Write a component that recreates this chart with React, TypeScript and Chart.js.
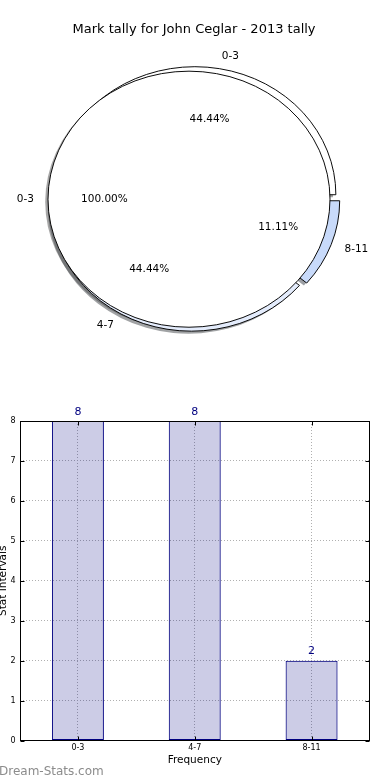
import React, { useEffect, useRef } from 'react';
import { Chart, registerables } from 'chart.js';

Chart.register(...registerables);

// ---------- data ----------
const TITLE = 'Mark tally for John Ceglar - 2013 tally';
const categories = ['0-3', '4-7', '8-11'];
const tallyValues = [8, 8, 2];
const sliceColors = ['#ffffff', '#e4ecfc', '#c8dafa'];
const fullPieLabels = ['0-3'];
const fullPieValues = [8];
const fullPieColors = ['#ffffff'];
const X_TITLE = 'Frequency';
const Y_TITLE = 'Stat Intervals';
const Y_MIN = 0;
const Y_MAX = 8;
const Y_STEP = 1;
const WATERMARK = 'Dream-Stats.com';

// ---------- style ----------
const FONT = "'DejaVu Sans', sans-serif";
const SY = 0.908; // vertical squash of the pie (non-equal aspect)
const EXPLODE = 5;
const SHADOW_DX = -2.8;
const SHADOW_DY = 2.8;
const BAR_FILL = 'rgba(0,0,128,0.2)';
const BAR_EDGE = '#000080';
const GRID = '#b0b0b0';
const TAU = Math.PI * 2;

function shadowOf(hex: string): string {
  const h = hex.replace('#', '');
  const r = parseInt(h.slice(0, 2), 16);
  const g = parseInt(h.slice(2, 4), 16);
  const b = parseInt(h.slice(4, 6), 16);
  return `rgba(${Math.round(r * 0.3)},${Math.round(g * 0.3)},${Math.round(b * 0.3)},0.5)`;
}

function pieGeom(chart: any) {
  const a = chart.chartArea;
  return {
    cx: (a.left + a.right) / 2,
    cy: (a.top + a.bottom) / 2,
    R: Math.min(a.right - a.left, a.bottom - a.top) / 2 - 1,
  };
}

const isFull = (arc: any) => arc.endAngle - arc.startAngle >= TAU - 1e-6;

const piePlugin = {
  id: 'mplPie',
  afterDatasetsUpdate(chart: any) {
    const { cx, cy, R } = pieGeom(chart);
    chart.data.datasets.forEach((_ds: any, i: number) => {
      chart.getDatasetMeta(i).data.forEach((arc: any) => {
        const mid = (arc.startAngle + arc.endAngle) / 2;
        arc.x = cx + Math.cos(mid) * EXPLODE;
        arc.y = cy + Math.sin(mid) * EXPLODE;
        arc.innerRadius = 0;
        arc.outerRadius = R;
      });
    });
  },
  beforeDatasetsDraw(chart: any) {
    const ctx = chart.ctx;
    const { cy } = pieGeom(chart);
    ctx.save();
    ctx.translate(0, cy);
    ctx.scale(1, SY);
    ctx.translate(0, -cy);
    chart.data.datasets.forEach((ds: any, i: number) => {
      chart.getDatasetMeta(i).data.forEach((arc: any, j: number) => {
        const x = arc.x + SHADOW_DX;
        const y = arc.y + SHADOW_DY;
        ctx.beginPath();
        if (isFull(arc)) {
          ctx.arc(x, y, arc.outerRadius, 0, TAU);
        } else {
          ctx.moveTo(x, y);
          ctx.arc(x, y, arc.outerRadius, arc.startAngle, arc.endAngle);
          ctx.closePath();
        }
        ctx.fillStyle = shadowOf(ds.backgroundColor[j]);
        ctx.fill();
      });
    });
  },
  afterDatasetsDraw(chart: any) {
    const ctx = chart.ctx;
    // outline of full (360 degree) wedges: a plain circle, no radius line
    chart.data.datasets.forEach((_ds: any, i: number) => {
      chart.getDatasetMeta(i).data.forEach((arc: any) => {
        if (!isFull(arc)) return;
        ctx.beginPath();
        ctx.arc(arc.x, arc.y, arc.outerRadius, 0, TAU);
        ctx.strokeStyle = '#000';
        ctx.lineWidth = 1;
        ctx.stroke();
      });
    });
    ctx.restore();
    const { cy } = pieGeom(chart);
    ctx.save();
    ctx.font = `10.5px ${FONT}`;
    ctx.fillStyle = '#000';
    ctx.textBaseline = 'middle';
    chart.data.datasets.forEach((ds: any, i: number) => {
      const total = ds.data.reduce((s: number, v: number) => s + v, 0);
      chart.getDatasetMeta(i).data.forEach((arc: any, j: number) => {
        const mid = (arc.startAngle + arc.endAngle) / 2;
        const c = Math.cos(mid);
        const s = Math.sin(mid);
        const R = arc.outerRadius;
        const lx = arc.x + c * 1.1 * R;
        const ly = cy + (arc.y - cy + s * 1.1 * R) * SY;
        ctx.textAlign = c > 0 ? 'left' : 'right';
        ctx.fillText(ds.sliceLabels[j], lx, ly);
        const px = arc.x + c * 0.6 * R;
        const py = cy + (arc.y - cy + s * 0.6 * R) * SY;
        ctx.textAlign = 'center';
        ctx.fillText(((ds.data[j] / total) * 100).toFixed(2) + '%', px, py);
      });
    });
    ctx.restore();
  },
};

const barPlugin = {
  id: 'mplBar',
  afterDatasetsDraw(chart: any) {
    const ctx = chart.ctx;
    const a = chart.chartArea;
    const xs = chart.scales.x;
    const ys = chart.scales.y;
    ctx.save();
    // value labels
    ctx.font = `11px ${FONT}`;
    ctx.fillStyle = BAR_EDGE;
    ctx.textAlign = 'center';
    ctx.textBaseline = 'middle';
    const ds = chart.data.datasets[0];
    chart.getDatasetMeta(0).data.forEach((bar: any, i: number) => {
      ctx.fillText(String(ds.data[i]), bar.x, bar.y - 9);
    });
    // frame
    const L = Math.round(a.left) + 0.5;
    const T = Math.round(a.top) + 0.5;
    const Rr = Math.round(a.right) - 0.5;
    const B = Math.round(a.bottom) - 0.5;
    ctx.strokeStyle = '#000';
    ctx.lineWidth = 1;
    ctx.beginPath();
    // inward ticks
    ys.ticks.forEach((t: any) => {
      const y = Math.round(ys.getPixelForValue(t.value)) + 0.5;
      ctx.moveTo(L, y); ctx.lineTo(L + 4, y);
      ctx.moveTo(Rr, y); ctx.lineTo(Rr - 4, y);
    });
    xs.ticks.forEach((_t: any, i: number) => {
      const x = Math.round(xs.getPixelForTick(i)) + 0.5;
      ctx.moveTo(x, B); ctx.lineTo(x, B - 4);
      ctx.moveTo(x, T); ctx.lineTo(x, T + 4);
    });
    ctx.stroke();
    ctx.strokeRect(L, T, Rr - L, B - T);
    ctx.restore();
  },
  afterDraw(chart: any) {
    const ctx = chart.ctx;
    ctx.save();
    ctx.font = `12px ${FONT}`;
    ctx.fillStyle = '#8c8c8c';
    ctx.textAlign = 'left';
    ctx.textBaseline = 'alphabetic';
    ctx.fillText(WATERMARK, 3, 395);
    ctx.restore();
  },
};

export default function App() {
  const pieRef = useRef<HTMLCanvasElement>(null);
  const barRef = useRef<HTMLCanvasElement>(null);

  useEffect(() => {
    const rev = <T,>(arr: T[]) => arr.slice().reverse();
    const pie = new Chart(pieRef.current as HTMLCanvasElement, {
      type: 'pie',
      data: {
        labels: rev(categories),
        datasets: [
          {
            data: fullPieValues,
            sliceLabels: fullPieLabels,
            backgroundColor: fullPieColors,
            borderColor: '#000',
            borderWidth: 0,
            clip: false,
          } as any,
          {
            data: rev(tallyValues),
            sliceLabels: rev(categories),
            backgroundColor: rev(sliceColors),
            borderColor: '#000',
            borderWidth: 1,
            clip: false,
          } as any,
        ],
      },
      options: {
        responsive: false,
        animation: false,
        events: [],
        rotation: 90,
        layout: { padding: { left: 52, right: 54, top: 0, bottom: 31.6 } },
        plugins: {
          legend: { display: false },
          tooltip: { enabled: false },
          title: {
            display: true,
            text: TITLE,
            color: '#000',
            font: { family: FONT, size: 13, weight: 'normal' },
            padding: { top: 22, bottom: 12.4 },
          },
        },
      } as any,
      plugins: [piePlugin],
    });

    const bar = new Chart(barRef.current as HTMLCanvasElement, {
      type: 'bar',
      data: {
        labels: categories,
        datasets: [
          {
            data: tallyValues,
            backgroundColor: BAR_FILL,
            borderColor: BAR_EDGE,
            borderWidth: 1,
            borderSkipped: false,
            barPercentage: 0.445,
            categoryPercentage: 1,
          },
        ],
      },
      options: {
        responsive: false,
        animation: false,
        events: [],
        layout: { padding: { left: 0, right: 20, top: 41, bottom: 0 } },
        plugins: { legend: { display: false }, tooltip: { enabled: false } },
        scales: {
          x: {
            grid: { offset: false, color: GRID, lineWidth: 1, drawTicks: false },
            border: { display: false, dash: [1, 2] },
            ticks: { font: { family: FONT, size: 8 }, color: '#000', padding: 3, maxRotation: 0 },
            title: {
              display: true,
              text: X_TITLE,
              color: '#000',
              font: { family: FONT, size: 10.5 },
              padding: { top: 0, bottom: 13.7 },
            },
            afterFit: (s: any) => { s.height = 39.5; },
          },
          y: {
            min: Y_MIN,
            max: Y_MAX,
            grid: { color: GRID, lineWidth: 1, drawTicks: false },
            border: { display: false, dash: [1, 2] },
            ticks: { stepSize: Y_STEP, font: { family: FONT, size: 8 }, color: '#000', padding: 4 },
            title: {
              display: true,
              text: Y_TITLE,
              color: '#000',
              font: { family: FONT, size: 10.5 },
              padding: { top: 0.7, bottom: 0 },
            },
            afterFit: (s: any) => { s.width = 23.5; },
          },
        },
      } as any,
      plugins: [barPlugin],
    });

    return () => {
      pie.destroy();
      bar.destroy();
    };
  }, []);

  return (
    <div style={{ position: 'absolute', left: 0, top: 0, width: 390, height: 780, overflow: 'hidden', background: '#fff' }}>
      <canvas
        ref={pieRef}
        width={390}
        height={380}
        style={{ position: 'absolute', left: 0, top: 0, width: 390, height: 380 }}
      />
      <canvas
        ref={barRef}
        width={394}
        height={400}
        style={{ position: 'absolute', left: -4, top: 380, width: 394, height: 400 }}
      />
    </div>
  );
}
